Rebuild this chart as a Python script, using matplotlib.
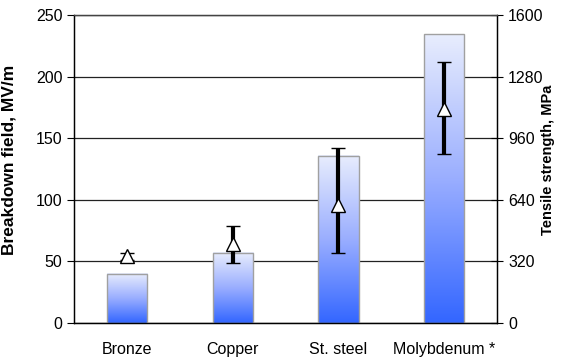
import numpy as np
import matplotlib.pyplot as plt
from matplotlib.colors import LinearSegmentedColormap

plt.rcParams['font.family'] = ['Liberation Sans', 'DejaVu Sans']

# materials
materials = ['Bronze', 'Copper', 'St. steel', 'Molybdenum *']
# tensile strength, MPa (bars, right axis)
tensile = [256, 365, 870, 1500]
# breakdown field, MV/m (triangles, left axis)
field = [54, 64, 96, 174]
field_lo = [51, 49, 57, 137]
field_hi = [57, 79, 142, 212]

x = np.arange(len(materials))
width = 0.38

fig = plt.figure(figsize=(5.7, 3.6), dpi=100)
ax = fig.add_axes([0.13, 0.103, 0.742, 0.855])
ax2 = ax.twinx()

# bars with a vertical gradient (light top, blue bottom)
cmap = LinearSegmentedColormap.from_list('bl', ['#3366ff', '#9aaeff', '#e8edfd'])
grad = np.linspace(0, 1, 256).reshape(-1, 1)
bars = ax2.bar(x, tensile, width, facecolor='none', edgecolor='#a0a0a0', linewidth=1, zorder=3)
for b in bars:
    x0, y0 = b.get_x(), b.get_y()
    ax2.imshow(grad, cmap=cmap, origin='lower', aspect='auto',
               extent=[x0, x0 + b.get_width(), y0, y0 + b.get_height()], zorder=2)

ax2.set_xlim(-0.5, len(materials) - 0.5)
ax2.set_ylim(0, 1600)
ax2.set_yticks(np.arange(0, 1601, 320))
ax2.yaxis.grid(True, color='#222222', linewidth=0.9)
ax2.set_axisbelow(True)
ax2.set_ylabel('Tensile strength, MPa', fontsize=10.5, fontweight='bold')
ax2.yaxis.set_label_coords(1.105, 0.53)

# breakdown field markers on top
ax.set_zorder(ax2.get_zorder() + 1)
ax.patch.set_visible(False)
err = [np.array(field) - np.array(field_lo), np.array(field_hi) - np.array(field)]
ax.errorbar(x, field, yerr=err, fmt='^', color='black', mfc='white', mec='black',
            ms=10, mew=1, elinewidth=3, capsize=5, capthick=3)
ax.set_ylim(0, 250)
ax.set_yticks(np.arange(0, 251, 50))
ax.set_ylabel('Breakdown field, MV/m', fontsize=12.5, fontweight='bold')
ax.yaxis.set_label_coords(-0.137, 0.53)

ax.set_xticks(np.arange(-0.5, len(materials), 1))
ax.set_xticklabels([])
ax.set_xticks(x, minor=True)
ax.set_xticklabels(materials, minor=True, fontsize=11.5)
ax.tick_params(axis='x', which='major', direction='inout', length=10)
ax.tick_params(axis='x', which='minor', length=0, pad=14)
ax.tick_params(axis='y', direction='out', length=5, labelsize=11.5)
ax2.tick_params(axis='y', direction='inout', length=9, labelsize=11.5)
ax2.set_xticks([])

for a in (ax, ax2):
    for s in a.spines.values():
        s.set_linewidth(0.9)
    a.spines['top'].set_color('#444444')

fig.savefig('out.png', dpi=100)
